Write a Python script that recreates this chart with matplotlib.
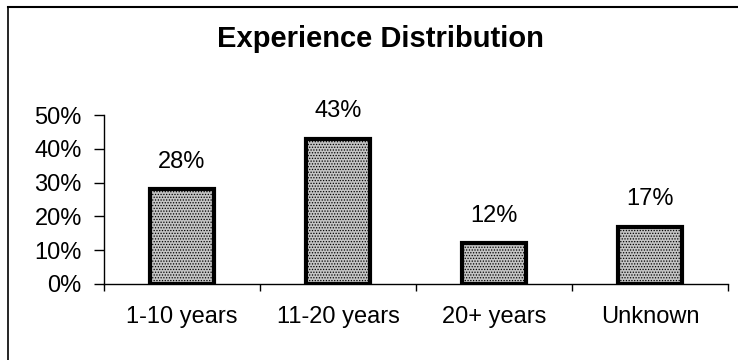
import matplotlib
matplotlib.use("Agg")
import matplotlib.pyplot as plt
from matplotlib.lines import Line2D
from matplotlib.ticker import PercentFormatter

categories = ["1-10 years", "11-20 years", "20+ years", "Unknown"]
shares = [0.28, 0.43, 0.12, 0.17]
value_labels = ["28%", "43%", "12%", "17%"]
y_ticks = [0.0, 0.1, 0.2, 0.3, 0.4, 0.5]

plt.rcParams["font.family"] = ["Liberation Sans", "DejaVu Sans"]
plt.rcParams["hatch.color"] = "#6e6e6e"
plt.rcParams["hatch.linewidth"] = 0.6

fig = plt.figure(figsize=(7.38, 3.6), dpi=100)
ax = fig.add_axes([104 / 738, 1 - 284 / 360, (728 - 104) / 738, (284 - 115) / 360])

x = range(len(categories))
ax.bar(x, shares, width=0.41, color="#c4c4c4", edgecolor="black", linewidth=3,
       hatch="......", zorder=3)

for xi, v, lab in zip(x, shares, value_labels):
    ax.annotate(lab, (xi, v), xytext=(0, 15.5), textcoords="offset points",
                ha="center", va="baseline", fontsize=17)

ax.set_xlim(-0.5, len(categories) - 0.5)
ax.set_ylim(0, 0.5)
ax.set_yticks(y_ticks)
ax.yaxis.set_major_formatter(PercentFormatter(1.0, decimals=0))
ax.set_xticks(list(x))
ax.set_xticklabels(categories)
# category boundary ticks on the x axis
ax.set_xticks([i - 0.5 for i in range(len(categories) + 1)], minor=True)
ax.tick_params(axis="x", which="major", length=0, pad=15.5, labelsize=17)
ax.tick_params(axis="x", which="minor", length=5, width=1, direction="out")
ax.tick_params(axis="y", length=7, width=1, direction="out", pad=9, labelsize=17)

for s in ("top", "right"):
    ax.spines[s].set_visible(False)
ax.spines["left"].set_linewidth(1)
ax.spines["bottom"].set_linewidth(1)

fig.text(380 / 738, 1 - 47 / 360, "Experience Distribution", ha="center",
         va="baseline", fontsize=21, fontweight="bold")

# chart-area frame: top and left edges
fig.add_artist(Line2D([8 / 738, 1.0], [1 - 7 / 360, 1 - 7 / 360], color="black", lw=1.5))
fig.add_artist(Line2D([8 / 738, 8 / 738], [0.0, 1 - 7 / 360], color="black", lw=1.2))

fig.savefig("out.png", dpi=100)
